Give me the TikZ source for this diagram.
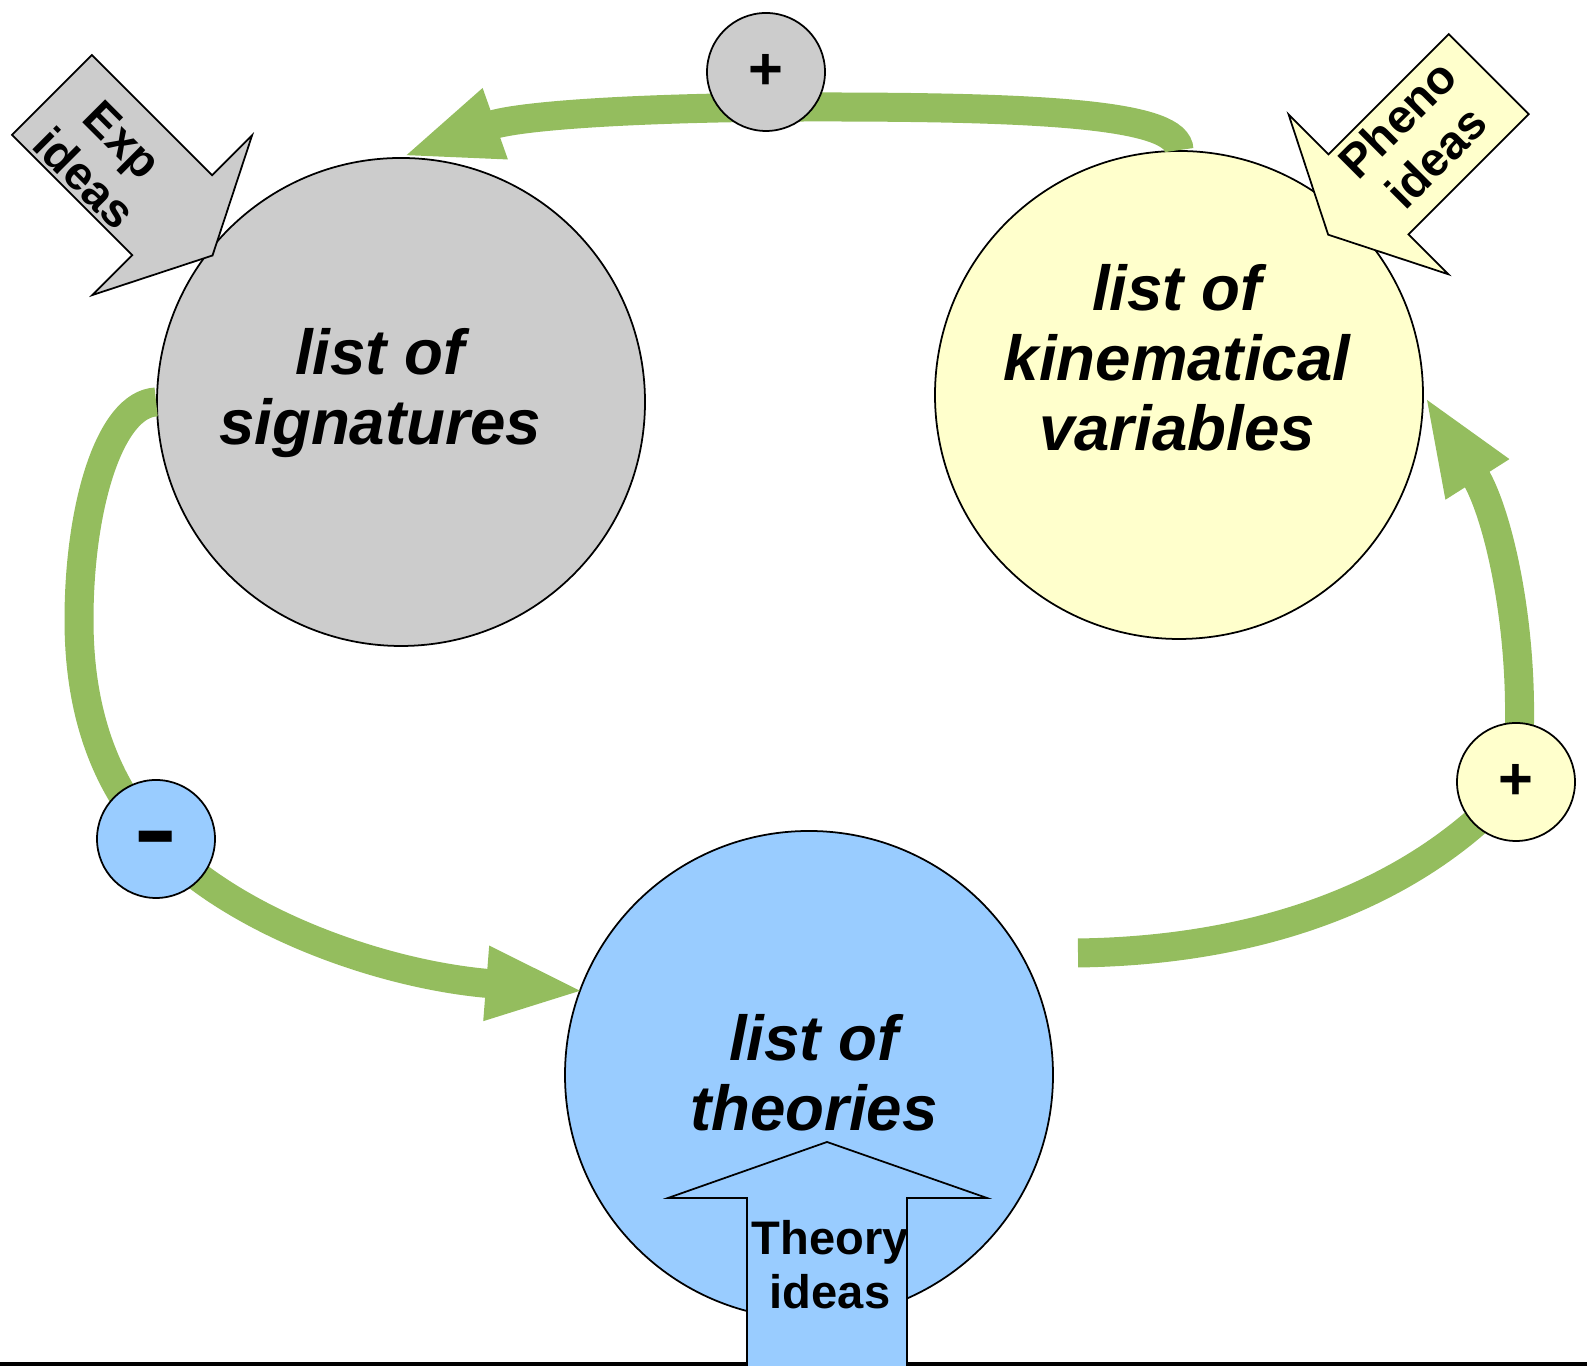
\documentclass[tikz,border=0pt]{standalone}
\usepackage{fontspec}
\setmainfont{Liberation Sans}
\usetikzlibrary{arrows.meta}
\tikzstyle{bnode}=[circle, draw=black, minimum size=4.88cm, line width=0.5pt, inner sep=0pt]
\tikzstyle{snode}=[circle, draw=black, minimum size=1.18cm, line width=0.5pt, inner sep=0pt, font=\fontsize{17}{20}\selectfont\bfseries]
\tikzstyle{btext}=[align=center, inner sep=0pt, font=\fontsize{18.1}{19.9}\selectfont\bfseries\itshape]
\tikzstyle{itext}=[align=center, inner sep=0pt, font=\fontsize{13.4}{15.4}\selectfont\bfseries]
\tikzstyle{flow}=[draw=mgreen, line width=0.29cm, -{Triangle[length=1cm, width=0.67cm]}]
\tikzstyle{l1}=[line width=0.5pt]
\usepackage{xcolor}
\definecolor{mgray}{HTML}{CCCCCC}
\definecolor{myellow}{HTML}{FFFFCC}
\definecolor{mblue}{HTML}{99CCFF}
\definecolor{mgreen}{HTML}{94BD5E}
\pgfdeclarelayer{bg}
\pgfdeclarelayer{mid}
\pgfsetlayers{bg,mid,main}

\begin{document}
\begin{tikzpicture}
    \useasboundingbox (0,0) rectangle (15.87,13.66);
    \clip (0,0) rectangle (15.87,13.66);
    \draw[line width=0.035cm] (0,0.018) -- (15.87,0.018);

    \begin{pgfonlayer}{bg}
        \node[bnode, fill=mgray] at (4.01,9.64) (sig) {};
        \node[bnode, fill=myellow] at (11.79,9.71) (kin) {};
        \node[bnode, fill=mblue] at (8.09,2.91) (theo) {};
    \end{pgfonlayer}
    \node[btext] at (3.80,9.725) (sigt) {list of\\signatures};
    \node[btext] at (11.77,10.08) (kint) {list of\\kinematical\\variables};
    \node[btext] at (8.14,2.93) (theot) {list of\\theories};

    \node[snode, fill=mgray] at (7.66,12.94) (ptop) {+};
    \node[snode, fill=myellow] at (15.16,5.84) (pright) {+};
    \node[snode, fill=mblue] at (1.56,5.27) (mleft) {\raisebox{-0.32cm}[0pt][0pt]{\scalebox{1.1}[1.7]{−}}};

    \coordinate (tstart) at (10.78,4.13);
    \begin{pgfonlayer}{mid}
        \draw[flow] (kin.north) .. controls (11.78,12.51) and (10.50,12.59) .. (8.20,12.59)
            .. controls (6.50,12.59) and (5.20,12.51) .. (sig.north);
        \draw[flow] (sig.west) .. controls (1.10,9.62) and (0.79,8.60) .. (0.79,7.46)
            .. controls (0.79,6.46) and (1.10,5.76) .. (mleft.center)
            .. controls (2.30,4.46) and (3.80,3.91) .. ([xshift=0.07cm]theo.160);
        \draw[flow] (tstart) .. controls (13.00,4.16) and (14.40,4.96) .. (pright.center)
            .. controls (15.30,7.16) and (15.00,8.51) .. (kin.east);
    \end{pgfonlayer}

    % idea arrows
    \begin{scope}[shift={(0.52,12.71)}, rotate=-45]
        \draw[l1, fill=mgray] (0,0.565) -- (1.70,0.565) -- (1.70,1.13) -- (2.27,0) -- (1.70,-1.13) -- (1.70,-0.565) -- (0,-0.565) -- cycle;
        \node[itext, rotate=-45] at (0.82,-0.09) (expt) {Exp\\ideas};
    \end{scope}
    \begin{scope}[shift={(14.887,12.918)}, rotate=225]
        \draw[l1, fill=myellow] (0,0.565) -- (1.70,0.565) -- (1.70,1.13) -- (2.27,0) -- (1.70,-1.13) -- (1.70,-0.565) -- (0,-0.565) -- cycle;
        \node[itext, rotate=45] at (0.96,-0.06) (phenot) {Pheno\\ideas};
    \end{scope}
    \draw[l1, fill=mblue] (7.47,-0.2) -- (7.47,1.68) -- (6.68,1.68) -- (8.27,2.24) -- (9.87,1.68) -- (9.07,1.68) -- (9.07,-0.2) -- cycle;
    \node[itext] at (8.30,1.015) (theoryt) {Theory\\ideas};
\end{tikzpicture}
\end{document}
